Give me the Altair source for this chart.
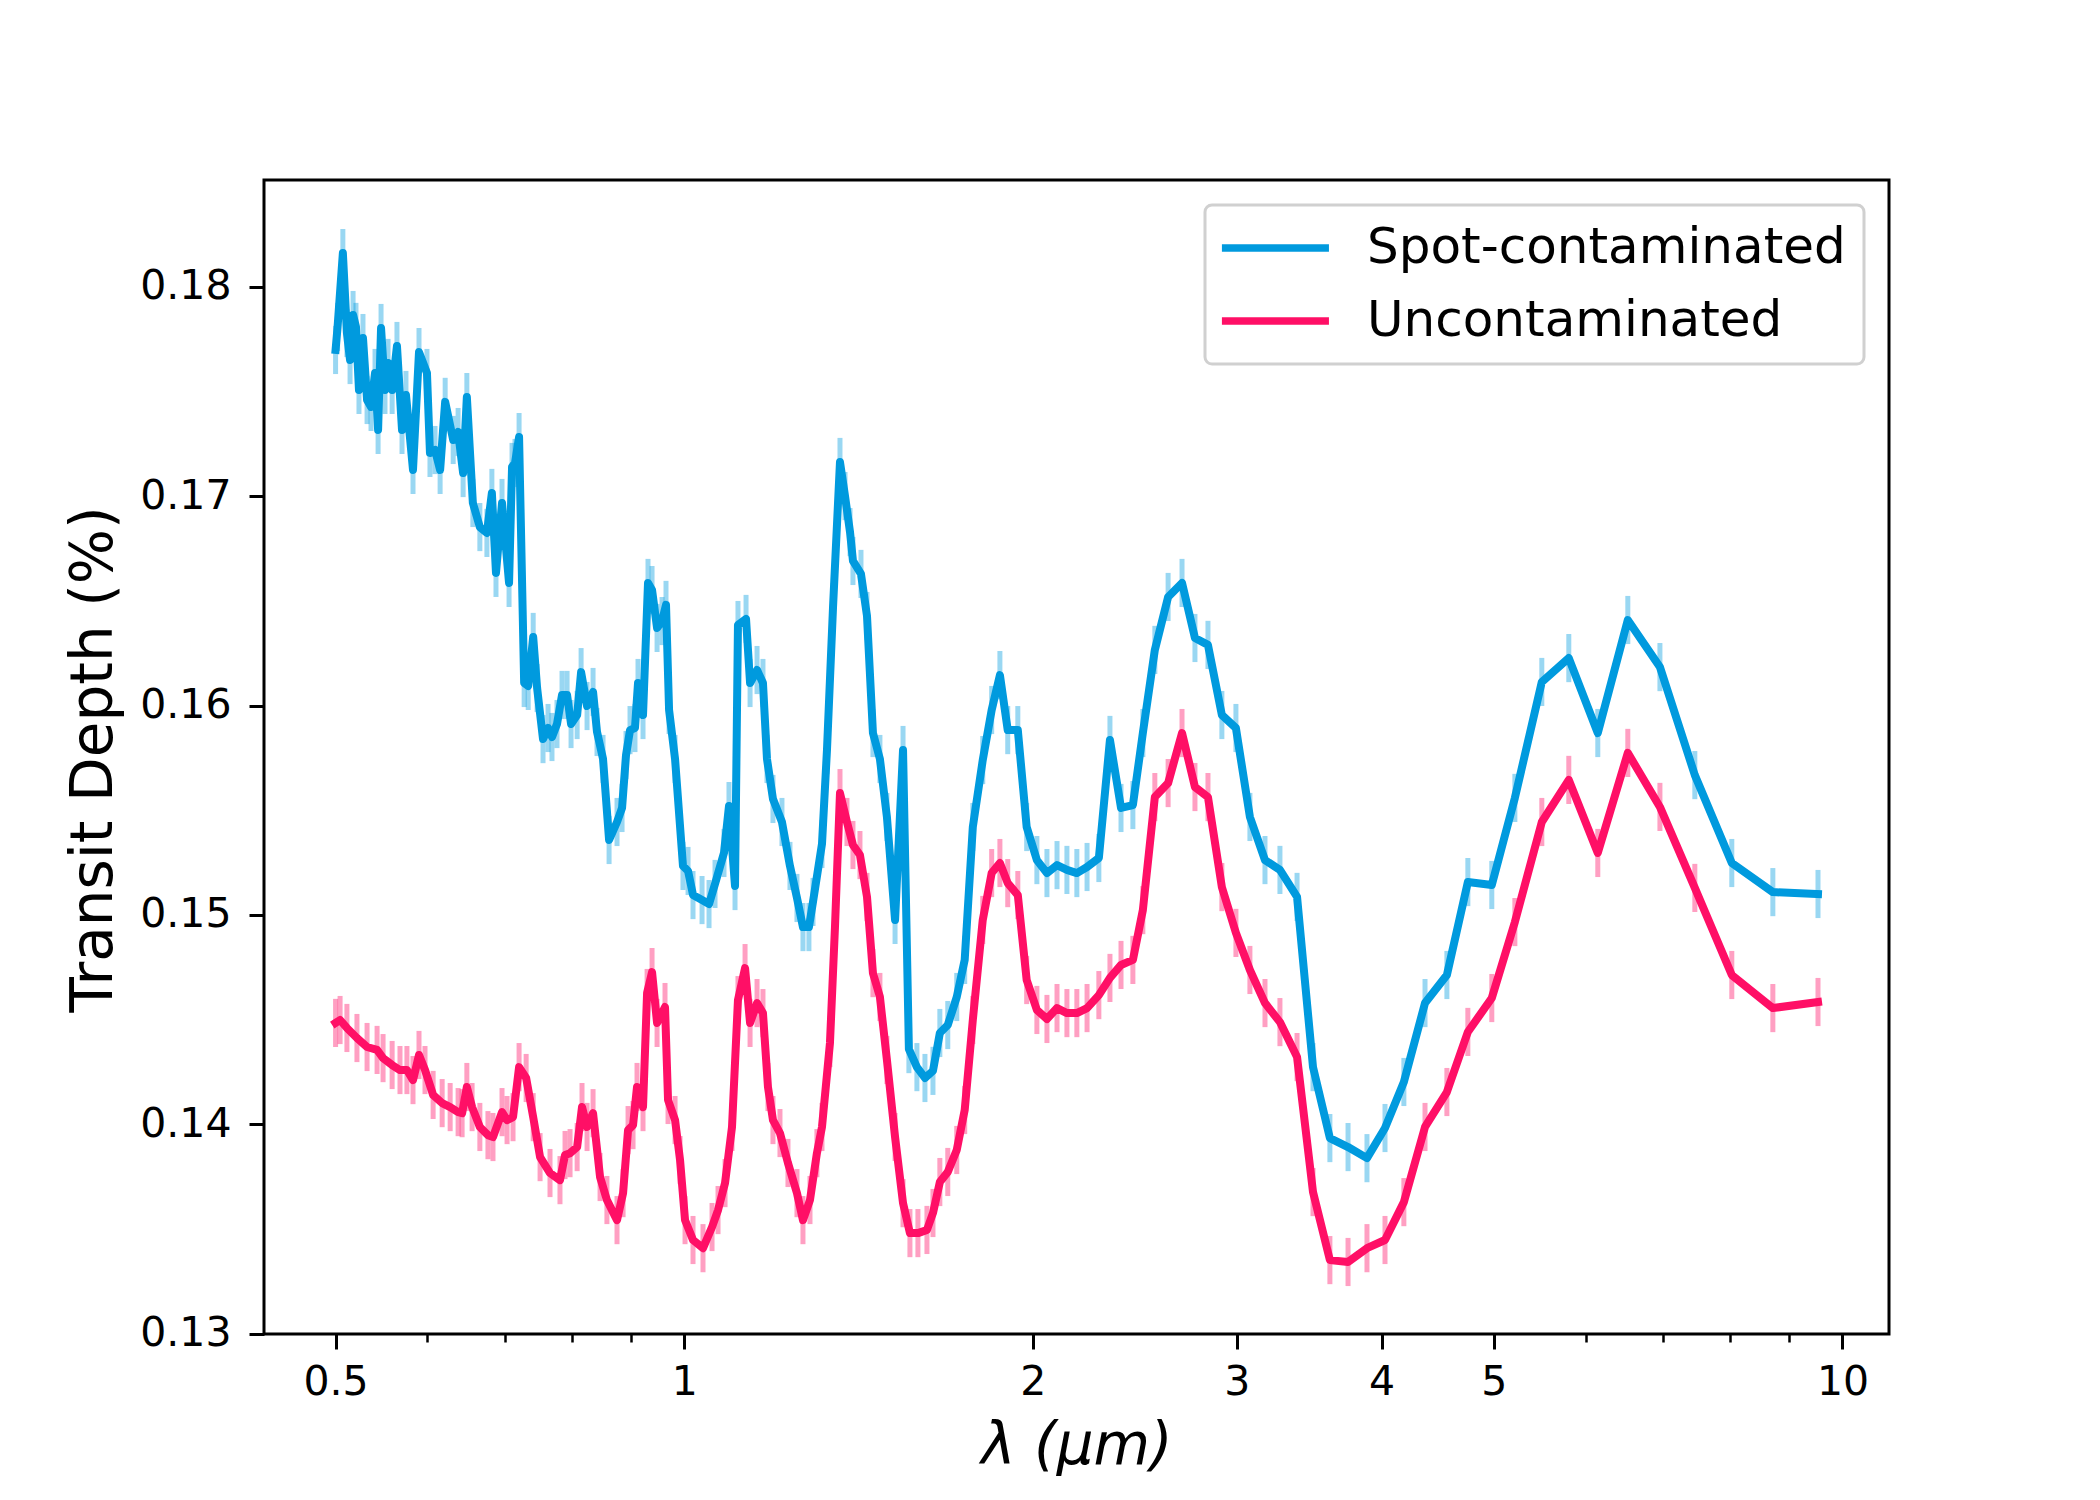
import altair as alt
import pandas as pd

BLUE = "#009ADE"
RED = "#FF0F66"
SERIES = ["Spot-contaminated", "Uncontaminated"]

# wavelength (micron) / transit depth (%)
spot_wl = [0.500, 0.502, 0.5073, 0.5114, 0.5146, 0.5177, 0.5207, 0.5238, 0.5280, 0.5323,
           0.5365, 0.5408, 0.5441, 0.5473, 0.5516, 0.5550, 0.5595, 0.5649, 0.5706, 0.5751,
           0.5832, 0.5902, 0.5996, 0.6032, 0.6093, 0.6155, 0.6217, 0.6317, 0.6379, 0.6443,
           0.6491, 0.6569, 0.6661, 0.6755, 0.6822, 0.6878, 0.6961, 0.7059, 0.7101, 0.7143,
           0.7201, 0.7274, 0.7333, 0.7406, 0.7464, 0.7552, 0.7628, 0.7688, 0.7765, 0.7843,
           0.7922, 0.7985, 0.8082, 0.8146, 0.8243, 0.8342, 0.8408, 0.8509, 0.8612, 0.8749,
           0.8837, 0.8907, 0.8978, 0.9067, 0.9122, 0.9213, 0.9305, 0.9380, 0.9474, 0.9568,
           0.9644, 0.9703, 0.9819, 0.9975, 1.0076, 1.0176, 1.0360, 1.0505, 1.0631, 1.0822,
           1.0930, 1.1062, 1.1127, 1.1307, 1.1398, 1.1557, 1.1694, 1.1788, 1.1929, 1.2144,
           1.2339, 1.2512, 1.2662, 1.2813, 1.2917, 1.3150, 1.3281, 1.3442, 1.3629, 1.3766,
           1.3904, 1.3985, 1.4210, 1.4381, 1.4552, 1.4755, 1.4962, 1.5206, 1.5449, 1.5630,
           1.5881, 1.6137, 1.6396, 1.6622, 1.6886, 1.7190, 1.7464, 1.7748, 1.8102, 1.8426,
           1.8730, 1.9024, 1.9409, 1.9754, 2.0159, 2.0566, 2.0982, 2.1399, 2.1826, 2.2273,
           2.2802, 2.3310, 2.3829, 2.4398, 2.4886, 2.5486, 2.6168, 2.6901, 2.7602, 2.8325,
           2.9119, 2.9944, 3.0788, 3.1725, 3.2682, 3.3813, 3.4903, 3.6095, 3.7420, 3.8856,
           4.0274, 4.1813, 4.3608, 4.5546, 4.7484, 4.9800, 5.2137, 5.5006, 5.8038, 6.1481,
           6.5261, 6.9564, 7.4563, 8.0249, 8.7074, 9.525]
spot_depth = [0.17699, 0.17809, 0.18162, 0.17780, 0.17651, 0.17866, 0.17809, 0.17508, 0.17756, 0.17460,
              0.17427, 0.17589, 0.17317, 0.17804, 0.17508, 0.17637, 0.17508, 0.17718, 0.17317, 0.17484,
              0.17126, 0.17689, 0.17589, 0.17207, 0.17221, 0.17126, 0.17451, 0.17269, 0.17307, 0.17111,
              0.17474, 0.16968, 0.16853, 0.16825, 0.17016, 0.16634, 0.16968, 0.16586, 0.17140, 0.17159,
              0.17283, 0.16108, 0.16094, 0.16328, 0.16084, 0.15840, 0.15893, 0.15850, 0.15912, 0.16051,
              0.16051, 0.15912, 0.15955, 0.16160, 0.15998, 0.16065, 0.15874, 0.15745, 0.15358, 0.15444,
              0.15511, 0.15764, 0.15883, 0.15893, 0.16108, 0.15955, 0.16586, 0.16552, 0.16371, 0.16404,
              0.16481, 0.15979, 0.15745, 0.15234, 0.15210, 0.15095, 0.15071, 0.15052, 0.15148, 0.15296,
              0.15520, 0.15138, 0.16385, 0.16414, 0.16108, 0.16170, 0.16108, 0.15745, 0.15554, 0.15444,
              0.15234, 0.15081, 0.14942, 0.14942, 0.15062, 0.15339, 0.15788, 0.16471, 0.17164, 0.17001,
              0.16829, 0.16691, 0.16629, 0.16428, 0.15869, 0.15745, 0.15468, 0.14976, 0.15788, 0.14359,
              0.14273, 0.14221, 0.14255, 0.14436, 0.14474, 0.14608, 0.14785, 0.15420, 0.15740, 0.15979,
              0.16146, 0.15883, 0.15883, 0.15420, 0.15262, 0.15200, 0.15238, 0.15215, 0.15200, 0.15229,
              0.15272, 0.15836, 0.15511, 0.15525, 0.15869, 0.16266, 0.16519, 0.16586, 0.16323, 0.16290,
              0.15955, 0.15893, 0.15468, 0.15262, 0.15215, 0.15086, 0.14273, 0.13934, 0.13891, 0.13838,
              0.13982, 0.14202, 0.14579, 0.14713, 0.15157, 0.15143, 0.15559, 0.16113, 0.16227, 0.15869,
              0.16409, 0.16184, 0.15668, 0.15248, 0.15109, 0.15100]

clean_wl = [0.500, 0.5045, 0.5114, 0.5217, 0.5323, 0.5430, 0.5495, 0.5595, 0.5683, 0.5762,
            0.5832, 0.5902, 0.5973, 0.6070, 0.6180, 0.6279, 0.6379, 0.6430, 0.6491, 0.6559,
            0.6661, 0.6769, 0.6837, 0.6961, 0.7031, 0.7115, 0.7201, 0.7303, 0.7406, 0.7508,
            0.7658, 0.7811, 0.7890, 0.7969, 0.8082, 0.8161, 0.8243, 0.8342, 0.8459, 0.8575,
            0.8749, 0.8855, 0.8943, 0.9032, 0.9104, 0.9213, 0.9288, 0.9380, 0.9474, 0.9625,
            0.9683, 0.9819, 0.9917, 1.0016, 1.0176, 1.0380, 1.0568, 1.0695, 1.0845, 1.0996,
            1.1127, 1.1285, 1.1398, 1.1557, 1.1694, 1.1811, 1.1929, 1.2096, 1.2290, 1.2512,
            1.2662, 1.2840, 1.3018, 1.3150, 1.3360, 1.3494, 1.3629, 1.3819, 1.3985, 1.4181,
            1.4381, 1.4552, 1.4755, 1.4962, 1.5206, 1.5449, 1.5662, 1.5913, 1.6201, 1.6396,
            1.6622, 1.6886, 1.7190, 1.7464, 1.7748, 1.8102, 1.8426, 1.8730, 1.9024, 1.9409,
            1.9754, 2.0159, 2.0566, 2.0982, 2.1399, 2.1826, 2.2273, 2.2802, 2.3310, 2.3829,
            2.4398, 2.4886, 2.5486, 2.6168, 2.6901, 2.7602, 2.8325, 2.9119, 2.9944, 3.0788,
            3.1725, 3.2682, 3.3813, 3.4903, 3.6095, 3.7420, 3.8856, 4.0274, 4.1813, 4.3608,
            4.5546, 4.7484, 4.9800, 5.2137, 5.5006, 5.8038, 6.1481, 6.5261, 6.9564, 7.4563,
            8.0249, 8.7074, 9.525]
clean_depth = [0.14484, 0.14498, 0.14460, 0.14412, 0.14369, 0.14355, 0.14316, 0.14283, 0.14259, 0.14259,
               0.14211, 0.14331, 0.14259, 0.14140, 0.14101, 0.14082, 0.14058, 0.14053, 0.14178, 0.14082,
               0.13987, 0.13948, 0.13939, 0.14058, 0.14020, 0.14034, 0.14273, 0.14221, 0.14034, 0.13843,
               0.13767, 0.13733, 0.13853, 0.13862, 0.13891, 0.14082, 0.13987, 0.14053, 0.13748, 0.13638,
               0.13542, 0.13671, 0.13972, 0.13996, 0.14178, 0.14082, 0.14627, 0.14727, 0.14484, 0.14560,
               0.14116, 0.14020, 0.13829, 0.13542, 0.13447, 0.13408, 0.13509, 0.13590, 0.13719, 0.13987,
               0.14593, 0.14746, 0.14484, 0.14579, 0.14531, 0.14178, 0.14020, 0.13958, 0.13815, 0.13671,
               0.13542, 0.13638, 0.13862, 0.13987, 0.14388, 0.14942, 0.15582, 0.15444, 0.15334, 0.15286,
               0.15086, 0.14722, 0.14608, 0.14307, 0.13939, 0.13623, 0.13480, 0.13480, 0.13495, 0.13576,
               0.13724, 0.13772, 0.13877, 0.14068, 0.14498, 0.14976, 0.15200, 0.15248, 0.15152, 0.15095,
               0.14689, 0.14546, 0.14503, 0.14555, 0.14531, 0.14531, 0.14555, 0.14617, 0.14699, 0.14761,
               0.14785, 0.15023, 0.15563, 0.15630, 0.15869, 0.15611, 0.15563, 0.15133, 0.14914, 0.14737,
               0.14579, 0.14488, 0.14321, 0.13676, 0.13351, 0.13342, 0.13408, 0.13447, 0.13628, 0.13987,
               0.14154, 0.14441, 0.14603, 0.14966, 0.15444, 0.15645, 0.15296, 0.15774, 0.15516, 0.15129,
               0.14713, 0.14555, 0.14584]

depth_err = 0.00115  # half-length of the error bars

x_major = [0.5, 1, 2, 3, 4, 5, 10]
x_minor = [0.6, 0.7, 0.8, 0.9, 6, 7, 8, 9]
y_ticks = [0.13, 0.14, 0.15, 0.16, 0.17, 0.18]

rows = []
for name, wls, ds in [(SERIES[0], spot_wl, spot_depth), (SERIES[1], clean_wl, clean_depth)]:
    for w, d in zip(wls, ds):
        rows.append({"wl": w, "depth": d, "series": name,
                     "lo": d - depth_err, "hi": d + depth_err})
df = pd.DataFrame(rows)

FONT = "DejaVu Sans"
xscale = alt.Scale(type="log", domain=[0.43368, 10.969], nice=False)
yscale = alt.Scale(domain=[0.12998, 0.18511], nice=False, zero=False)

base = alt.Chart(df)

minor_axis = alt.Axis(values=x_minor, orient="bottom", tickSize=8, tickWidth=2.5,
                      labels=False, domain=False, title=None, grid=False)

err_spot = base.transform_filter(alt.datum.series == SERIES[0]).mark_rule(
    color=BLUE, opacity=0.4, strokeWidth=5
).encode(
    x=alt.X("wl:Q", scale=xscale, axis=minor_axis),
    y=alt.Y("lo:Q", scale=yscale, axis=None),
    y2="hi:Q",
)
err_clean = base.transform_filter(alt.datum.series == SERIES[1]).mark_rule(
    color=RED, opacity=0.4, strokeWidth=5
).encode(
    x=alt.X("wl:Q", scale=xscale, axis=None),
    y=alt.Y("lo:Q", scale=yscale, axis=None),
    y2="hi:Q",
)

lines = base.mark_line(strokeWidth=8, strokeJoin="round", strokeCap="square").encode(
    x=alt.X("wl:Q", scale=xscale,
            axis=alt.Axis(values=x_major, format="~g", orient="bottom", tickSize=15,
                          labelPadding=13, labelFlush=False, title="λ (μm)",
                          titleFontStyle="italic", titleY=112, titleBaseline="middle")),
    y=alt.Y("depth:Q", scale=yscale,
            axis=alt.Axis(values=y_ticks, format=".2f", tickSize=15, labelPadding=18,
                          title="Transit Depth (%)", titleX=-170, titleY=579,
                          titleBaseline="middle", titleAlign="center", titleAngle=270)),
    color=alt.Color("series:N",
                    scale=alt.Scale(domain=SERIES, range=[BLUE, RED]),
                    legend=alt.Legend(title=None)),
    order="wl:Q",
)

chart = alt.layer(err_spot, err_clean, lines).resolve_axis(
    x="independent", y="independent"
).properties(
    width=1625, height=1154,
    autosize=alt.AutoSizeParams(type="none"),
    padding={"left": 256, "top": 172, "right": 150, "bottom": 155},
    background="white",
).configure_view(
    stroke="black", strokeWidth=3
).configure_axis(
    domain=False, grid=False, tickColor="black", tickWidth=3,
    labelColor="black", labelFont=FONT, labelFontSize=41,
    titleColor="black", titleFont=FONT, titleFontSize=58, titleFontWeight="normal",
).configure_legend(
    orient="none", legendX=941, legendY=25, direction="vertical",
    fillColor="white", strokeColor="#d0d0d0", strokeWidth=3, cornerRadius=7, padding=18,
    labelFont=FONT, labelFontSize=50, labelColor="black", labelOffset=94,
    symbolType="M-1.95,0H6.05", symbolSize=716, symbolStrokeWidth=7.5, rowPadding=23,
    labelLimit=0,
)

chart.save("out.html", embed_options={"renderer": "svg", "actions": False})
